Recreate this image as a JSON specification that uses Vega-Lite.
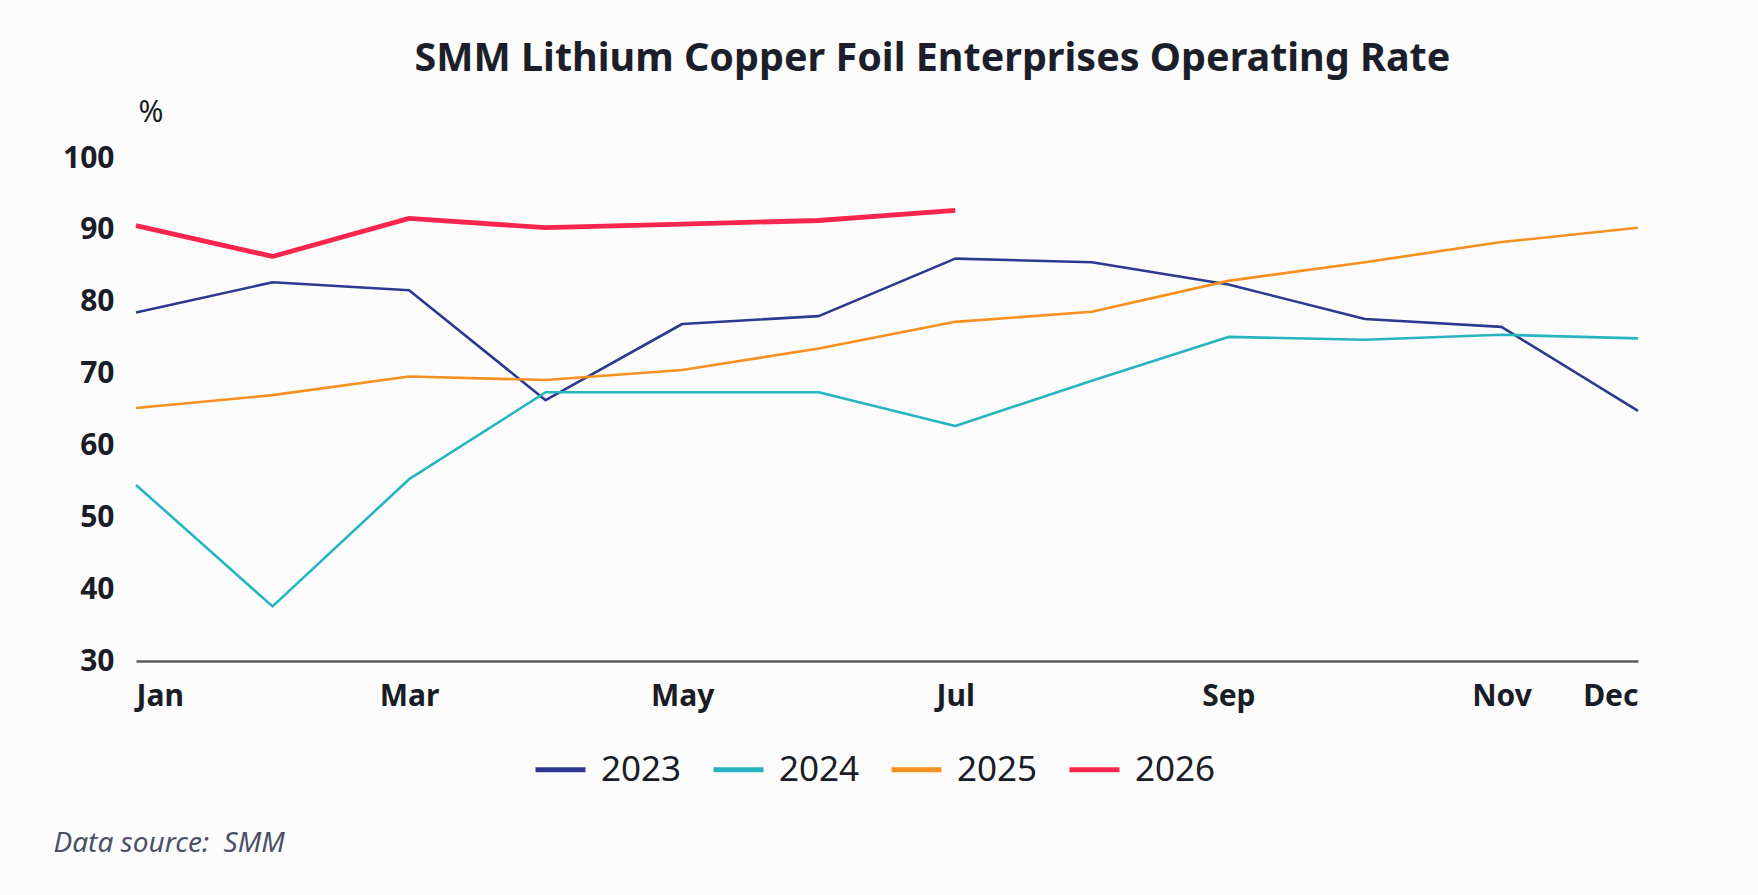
{
  "$schema": "https://vega.github.io/schema/vega-lite/v6.json",
  "description": "SMM lithium copper foil operating rate by month, 2023-2026",
  "background": "#fcfcfd",
  "padding": {"left": 53, "top": 38, "right": 121, "bottom": 42},
  "title": {
    "text": "SMM Lithium Copper Foil Enterprises Operating Rate",
    "font": "Noto Sans",
    "fontSize": 39.5,
    "fontWeight": "bold",
    "color": "#1c1f2a",
    "anchor": "middle",
    "dx": 86,
    "offset": 18
  },
  "resolve": {"legend": {"color": "independent"}},
  "vconcat": [
    {
      "width": 1502,
      "height": 503,
      "title": {
        "text": "Data source:\u00a0 SMM",
        "orient": "bottom",
        "anchor": "start",
        "frame": "bounds",
        "font": "Noto Sans",
        "fontSize": 28,
        "fontStyle": "italic",
        "fontWeight": "normal",
        "color": "#4b5068",
        "offset": 42,
        "dx": -9
      },
      "data": {
        "values": [
          {"month": "Jan", "year": "2023", "rate": 78.5},
          {"month": "Feb", "year": "2023", "rate": 82.7},
          {"month": "Mar", "year": "2023", "rate": 81.6},
          {"month": "Apr", "year": "2023", "rate": 66.3},
          {"month": "May", "year": "2023", "rate": 76.9},
          {"month": "Jun", "year": "2023", "rate": 78.0},
          {"month": "Jul", "year": "2023", "rate": 86.0},
          {"month": "Aug", "year": "2023", "rate": 85.5},
          {"month": "Sep", "year": "2023", "rate": 82.4},
          {"month": "Oct", "year": "2023", "rate": 77.6},
          {"month": "Nov", "year": "2023", "rate": 76.5},
          {"month": "Dec", "year": "2023", "rate": 64.8},
          {"month": "Jan", "year": "2024", "rate": 54.5},
          {"month": "Feb", "year": "2024", "rate": 37.6},
          {"month": "Mar", "year": "2024", "rate": 55.3},
          {"month": "Apr", "year": "2024", "rate": 67.4},
          {"month": "May", "year": "2024", "rate": 67.4},
          {"month": "Jun", "year": "2024", "rate": 67.4},
          {"month": "Jul", "year": "2024", "rate": 62.7},
          {"month": "Aug", "year": "2024", "rate": 69.0},
          {"month": "Sep", "year": "2024", "rate": 75.1},
          {"month": "Oct", "year": "2024", "rate": 74.7},
          {"month": "Nov", "year": "2024", "rate": 75.4},
          {"month": "Dec", "year": "2024", "rate": 74.9},
          {"month": "Jan", "year": "2025", "rate": 65.2},
          {"month": "Feb", "year": "2025", "rate": 67.0},
          {"month": "Mar", "year": "2025", "rate": 69.6},
          {"month": "Apr", "year": "2025", "rate": 69.1},
          {"month": "May", "year": "2025", "rate": 70.5},
          {"month": "Jun", "year": "2025", "rate": 73.5},
          {"month": "Jul", "year": "2025", "rate": 77.2},
          {"month": "Aug", "year": "2025", "rate": 78.6},
          {"month": "Sep", "year": "2025", "rate": 82.9},
          {"month": "Oct", "year": "2025", "rate": 85.5},
          {"month": "Nov", "year": "2025", "rate": 88.3},
          {"month": "Dec", "year": "2025", "rate": 90.3},
          {"month": "Jan", "year": "2026", "rate": 90.6},
          {"month": "Feb", "year": "2026", "rate": 86.3},
          {"month": "Mar", "year": "2026", "rate": 91.6},
          {"month": "Apr", "year": "2026", "rate": 90.3},
          {"month": "May", "year": "2026", "rate": 90.8},
          {"month": "Jun", "year": "2026", "rate": 91.3},
          {"month": "Jul", "year": "2026", "rate": 92.7}
        ]
      },
      "mark": {"type": "line", "strokeJoin": "round"},
      "encoding": {
        "x": {
          "field": "month",
          "type": "ordinal",
          "scale": {
            "type": "point",
            "padding": 0,
            "domain": ["Jan", "Feb", "Mar", "Apr", "May", "Jun", "Jul", "Aug", "Sep", "Oct", "Nov", "Dec"]
          },
          "axis": {
            "title": null,
            "values": ["Jan", "Mar", "May", "Jul", "Sep", "Nov", "Dec"],
            "labelAngle": 0,
            "labelFlush": true,
            "ticks": false,
            "grid": false,
            "domain": true,
            "domainColor": "#5a5a5f",
            "domainWidth": 2.5,
            "labelFont": "Noto Sans",
            "labelFontSize": 30,
            "labelFontWeight": "bold",
            "labelColor": "#1a1d26",
            "labelPadding": 20
          }
        },
        "y": {
          "field": "rate",
          "type": "quantitative",
          "scale": {"domain": [30, 100], "nice": false, "zero": false},
          "axis": {
            "values": [30, 40, 50, 60, 70, 80, 90, 100],
            "ticks": false,
            "domain": false,
            "grid": false,
            "labelFont": "Noto Sans",
            "labelFontSize": 30,
            "labelFontWeight": "bold",
            "labelColor": "#1a1d26",
            "labelPadding": 22,
            "title": "%",
            "titleFont": "Noto Sans",
            "titleFontSize": 30,
            "titleFontWeight": "normal",
            "titleColor": "#1a1d26",
            "titleAngle": 0,
            "titleAlign": "left",
            "titleBaseline": "alphabetic",
            "titleX": 2,
            "titleY": -37
          }
        },
        "color": {
          "field": "year",
          "type": "nominal",
          "scale": {
            "domain": ["2023", "2024", "2025", "2026"],
            "range": ["#2b3990", "#25b4c0", "#f7901e", "#f8264c"]
          },
          "legend": {
            "title": null,
            "orient": "none",
            "legendX": 397,
            "legendY": 584,
            "direction": "horizontal",
            "symbolType": "stroke",
            "symbolSize": 2500,
            "symbolStrokeWidth": 5,
            "labelFont": "Noto Sans",
            "labelFontSize": 35,
            "labelColor": "#1a1d26",
            "labelOffset": 13,
            "columnPadding": 21
          }
        },
        "strokeWidth": {
          "condition": {"test": "datum.year === '2026'", "value": 4.8},
          "value": 2.6
        }
      }
    }
  ],
  "config": {
    "view": {"stroke": null},
    "font": "Noto Sans"
  }
}
